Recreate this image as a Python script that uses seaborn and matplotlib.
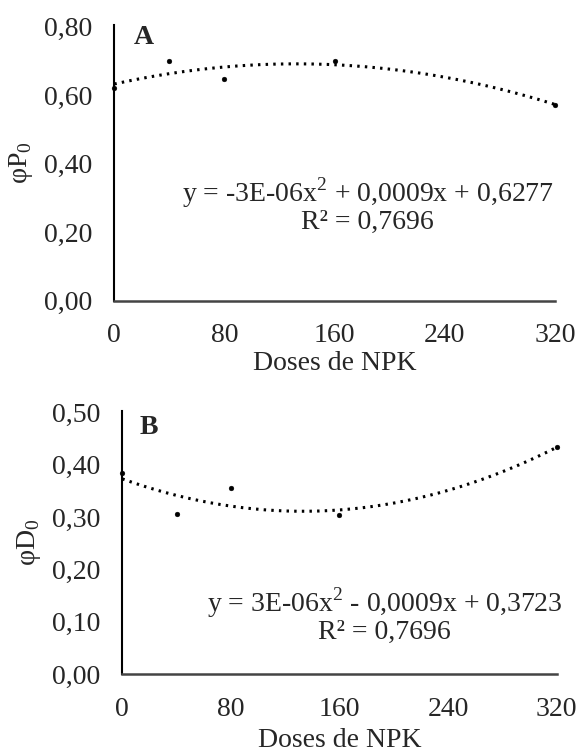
import seaborn as sns
import numpy as np
import matplotlib.pyplot as plt

# data
doses = [0, 40, 80, 160, 320]
phi_p0 = [0.622, 0.699, 0.648, 0.699, 0.572]
phi_d0 = [0.384, 0.305, 0.355, 0.304, 0.434]

x_ticks = [0, 80, 160, 240, 320]
x_ticklabels = ['0', '80', '160', '240', '320']
yA_ticks = [0.0, 0.2, 0.4, 0.6, 0.8]
yA_ticklabels = ['0,00', '0,20', '0,40', '0,60', '0,80']
yB_ticks = [0.0, 0.1, 0.2, 0.3, 0.4, 0.5]
yB_ticklabels = ['0,00', '0,10', '0,20', '0,30', '0,40', '0,50']

eqA = 'y = -3E-06x$^{\\mathregular{2}}$ + 0,0009x + 0,6277'
eqB = 'y = 3E-06x$^{\\mathregular{2}}$ - 0,0009x + 0,3723'
r2 = 'R² = 0,7696'

sns.set_style("white")
plt.rcParams['font.family'] = ['Liberation Serif', 'DejaVu Serif']
plt.rcParams['mathtext.fontset'] = 'custom'
plt.rcParams['mathtext.rm'] = 'Liberation Serif'
FS = 20

fig = plt.figure(figsize=(5.82, 7.55), dpi=100)
axA = fig.add_axes([0.1964, 0.6017, 0.7572, 0.3652])
axB = fig.add_axes([0.2101, 0.1069, 0.7464, 0.3491])


def panel(ax, y, yticks, ylabels, ylim, letter, letter_pos, ylab, eq,
          eq_pos, r2_pos, xlabpad):
    # quadratic trendline fitted to the points
    coef = np.polyfit(doses, y, 2)
    xs = np.linspace(0, 320, 200)
    sns.lineplot(x=xs, y=np.polyval(coef, xs), ax=ax, color='k',
                 lw=2.2, linestyle=(0, (0.8, 1.7)))
    sns.scatterplot(x=doses, y=y, ax=ax, color='k', s=12, edgecolor='k',
                    zorder=3, clip_on=False)
    ax.set_xlim(0, 320)
    ax.set_ylim(*ylim)
    ax.set_xticks(x_ticks)
    ax.set_xticklabels(x_ticklabels, fontsize=FS)
    ax.set_yticks(yticks)
    ax.set_yticklabels(ylabels, fontsize=FS)
    ax.tick_params(length=0, pad=16)
    ax.tick_params(axis='x', pad=16)
    sns.despine(ax=ax)
    ax.spines['left'].set_color('k')
    ax.spines['bottom'].set_color('#444444')
    ax.spines['left'].set_linewidth(1.5)
    ax.spines['bottom'].set_linewidth(1.8)
    ax.set_xlabel('Doses de NPK', fontsize=FS, labelpad=xlabpad)
    ax.set_ylabel(ylab, fontsize=FS, labelpad=6)
    ax.text(letter_pos[0], letter_pos[1], letter, transform=ax.transAxes,
            fontsize=FS, fontweight='bold', va='top', ha='left')
    ax.text(eq_pos[0], eq_pos[1], eq, fontsize=FS, ha='center', va='center')
    ax.text(r2_pos[0], r2_pos[1], r2, fontsize=FS, ha='center', va='center')


panel(axA, phi_p0, yA_ticks, yA_ticklabels, (0, 0.805), 'A', (0.045, 1.0),
      'φP$_{\\mathregular{0}}$', eqA, (184, 0.315), (184, 0.23), 2)
panel(axB, phi_d0, yB_ticks, yB_ticklabels, (0, 0.503), 'B', (0.04, 0.985),
      'φD$_{\\mathregular{0}}$', eqB, (193, 0.137), (193, 0.08), 5)

fig.savefig('out.png', dpi=100)
